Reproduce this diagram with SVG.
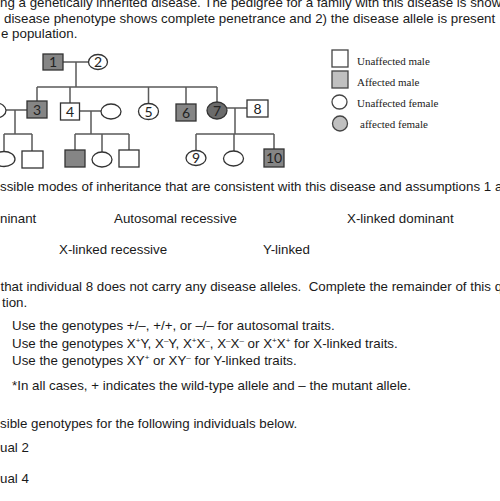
<svg xmlns="http://www.w3.org/2000/svg" width="500" height="501" viewBox="0 0 500 501">
<style>
.t{font-family:"Liberation Sans",Arial,sans-serif;font-size:13.33px;fill:#1a1a1a}
.lg{font-family:"Liberation Serif","Times New Roman",serif;font-size:11px;fill:#222}
.n{font-family:Lato,"Liberation Sans",sans-serif;font-size:14px;fill:#222;text-anchor:middle}
.u{fill:#fff;stroke:#333;stroke-width:1.3}
.a{fill:#858585;stroke:#333;stroke-width:1.3}
.a7{fill:#6b6b6b;stroke:#333;stroke-width:1.3}
.la{fill:#c0c0c0;stroke:#444;stroke-width:1.3}
.lu{fill:#fff;stroke:#444;stroke-width:1.3}
.c{stroke:#5a5a5a;stroke-width:1.5;fill:none}
</style>
<rect width="500" height="501" fill="#fff"/>

<text class="t" x="0" y="7">ng a genetically inherited disease. The pedigree for a family with this disease is show</text>
<text class="t" x="4" y="22.7">disease phenotype shows complete penetrance and 2) the disease allele is present</text>
<text class="t" x="1" y="37.8">e population.</text>

<g id="connectors" class="c">
<path d="M63 62H88.5M76 62V87M37 87H217M37 87V101M70 87V103M148.5 87V103.5M186 87V104M217 87V102"/>
<path d="M6 110H27M15 110V134M4 134H32M4 134V152M32 134V151"/>
<path d="M79.5 111H101M91 111V134M75 134H129M75 134V150M102 134V152M129 134V150"/>
<path d="M227 108H247M235 108V134M196 134H274M196 134V150.5M234 134V151M274 134V149"/>
</g>

<g id="n1"><rect class="a" x="43" y="54" width="20" height="16"/><text class="n" x="53" y="67">1</text></g>
<g id="n2"><ellipse class="u" cx="98" cy="62" rx="9.5" ry="7.5"/><text class="n" x="98" y="67">2</text></g>
<g id="n3spouse"><ellipse class="u" cx="-4" cy="110.5" rx="10" ry="7.5"/></g>
<g id="n3"><rect class="a" x="27" y="101" width="20" height="17"/><text class="n" x="37" y="114.5">3</text></g>
<g id="n4"><rect class="u" x="60.5" y="103" width="19" height="17"/><text class="n" x="70" y="116.5">4</text></g>
<g id="n4spouse"><ellipse class="u" cx="111" cy="111.5" rx="10" ry="7.5"/></g>
<g id="n5"><ellipse class="u" cx="148.5" cy="111.5" rx="10" ry="8"/><text class="n" x="148.5" y="116.5">5</text></g>
<g id="n6"><rect class="a" x="176" y="104" width="20" height="17"/><text class="n" x="186" y="117.5">6</text></g>
<g id="n7"><ellipse class="a7" cx="217" cy="110.5" rx="10" ry="8.5"/><text class="n" x="217" y="115.5">7</text></g>
<g id="n8"><rect class="u" x="247" y="100" width="21" height="17"/><text class="n" x="257.5" y="113.5">8</text></g>
<g id="c3a"><ellipse class="u" cx="4" cy="159" rx="11" ry="7.5"/></g>
<g id="c3b"><rect class="u" x="22" y="151" width="21" height="17"/></g>
<g id="c4a"><rect class="a" x="65" y="150" width="20" height="17"/></g>
<g id="c4b"><ellipse class="u" cx="102" cy="159.5" rx="10" ry="7.5"/></g>
<g id="c4c"><rect class="u" x="119" y="150" width="20" height="17"/></g>
<g id="n9"><ellipse class="u" cx="196" cy="158" rx="10" ry="7.5"/><text class="n" x="196" y="163">9</text></g>
<g id="c7b"><ellipse class="u" cx="233.5" cy="158.5" rx="10" ry="7.5"/></g>
<g id="n10"><rect class="a" x="264" y="149" width="20" height="18"/><text class="n" x="274" y="163">10</text></g>

<g id="legend">
<rect class="lu" x="332" y="50" width="16" height="17"/><text class="lg" x="357" y="65">Unaffected male</text>
<rect class="la" x="332" y="71" width="16" height="17"/><text class="lg" x="357" y="86">Affected male</text>
<ellipse class="lu" cx="339.5" cy="102" rx="7.5" ry="7"/><text class="lg" x="357" y="107">Unaffected female</text>
<ellipse class="la" cx="340" cy="123.5" rx="7.5" ry="7.5"/><text class="lg" x="360" y="128">affected female</text>
</g>

<text class="t" x="0" y="190.7">ssible modes of inheritance that are consistent with this disease and assumptions 1 a</text>
<text class="t" x="0" y="222.7">ninant</text>
<text class="t" x="114" y="222.7">Autosomal recessive</text>
<text class="t" x="347" y="222.7">X-linked dominant</text>
<text class="t" x="59" y="254">X-linked recessive</text>
<text class="t" x="263" y="254">Y-linked</text>

<text class="t" x="0.5" y="290.7" xml:space="preserve">that individual 8 does not carry any disease alleles.  Complete the remainder of this q</text>
<text class="t" x="2" y="306.7">tion.</text>

<text class="t" x="12" y="330">Use the genotypes +/–, +/+, or –/– for autosomal traits.</text>
<text class="t" x="12" y="347.7">Use the genotypes X<tspan font-size="8" dy="-5">+</tspan><tspan dy="5">Y, X</tspan><tspan font-size="8" dy="-5">–</tspan><tspan dy="5">Y, X</tspan><tspan font-size="8" dy="-5">+</tspan><tspan dy="5">X</tspan><tspan font-size="8" dy="-5">–</tspan><tspan dy="5">, X</tspan><tspan font-size="8" dy="-5">–</tspan><tspan dy="5">X</tspan><tspan font-size="8" dy="-5">–</tspan><tspan dy="5"> or X</tspan><tspan font-size="8" dy="-5">+</tspan><tspan dy="5">X</tspan><tspan font-size="8" dy="-5">+</tspan><tspan dy="5"> for X-linked traits.</tspan></text>
<text class="t" x="12" y="365">Use the genotypes XY<tspan font-size="8" dy="-5">+</tspan><tspan dy="5"> or XY</tspan><tspan font-size="8" dy="-5">–</tspan><tspan dy="5"> for Y-linked traits.</tspan></text>
<text class="t" x="12" y="390">*In all cases, + indicates the wild-type allele and – the mutant allele.</text>

<text class="t" x="0" y="428.3">sible genotypes for the following individuals below.</text>
<text class="t" x="0" y="451.7">ual 2</text>
<text class="t" x="0" y="482.7">ual 4</text>
</svg>
